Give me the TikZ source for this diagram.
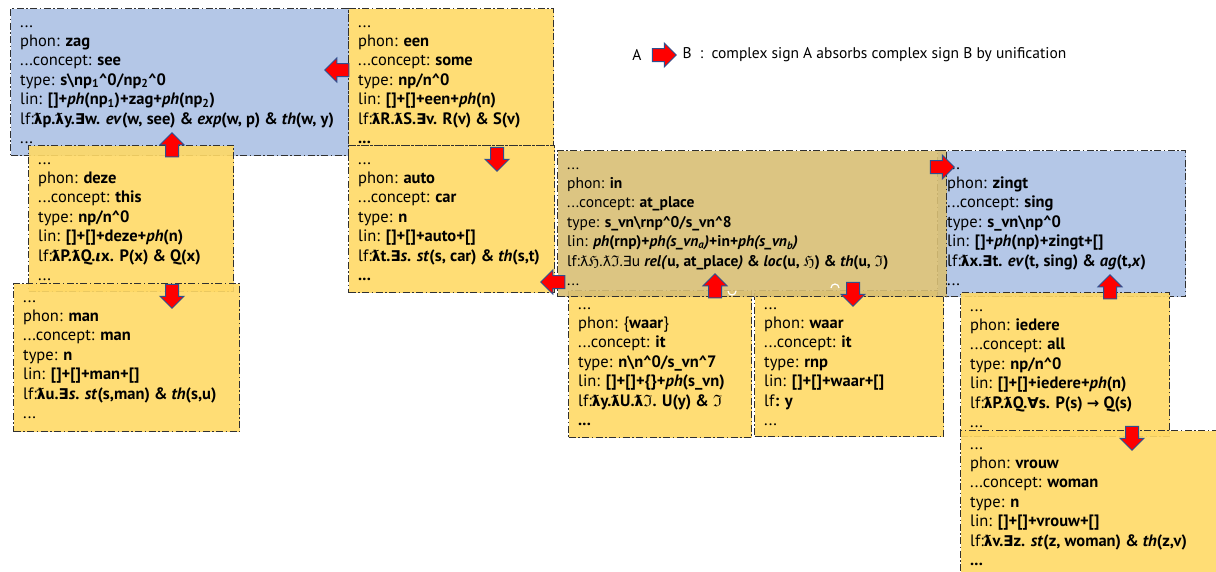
\documentclass[tikz,border=0pt]{standalone}
\usepackage{fontspec}
\usepackage{amssymb}
\setmainfont{PT Sans}
\newfontfamily\symf{DejaVu Sans}[Scale=0.9]
\usetikzlibrary{shapes.arrows}
\definecolor{sbBlue}{HTML}{B4C7E7}
\definecolor{sbYel}{HTML}{FFD966}
\definecolor{sbTan}{HTML}{D8BF74}
\definecolor{sbEdge}{HTML}{303030}
\definecolor{arrEdge}{HTML}{2F4F8F}
\newcommand\lam{{\symf ƛ}}
\newcommand\myex{{\symf ∃}}
\newcommand\myall{{\symf ∀}}
\newcommand\myto{{\symf →}}
\newcommand\myiota{{\symf\itshape ι}}
\newcommand\frH{$\mathfrak{H}$}
\newcommand\frI{$\mathfrak{I}$}
\newcommand\bs{\textbackslash}
\newcommand\crt{\textasciicircum}
\newcommand\boxfont{\fontsize{16.5}{19.4}\selectfont}
\newcommand\boxfontsm{\fontsize{15.5}{19.4}\selectfont}
\newcommand\legfont{\fontsize{15.5}{18}\selectfont}
\newcommand\lines[1]{\begin{tabular}{@{}l@{}}#1\end{tabular}}
\tikzset{
  box/.style={draw=sbEdge, line width=1pt, dash pattern=on 7pt off 2.5pt on 1.5pt off 2.5pt,
    inner sep=0pt, anchor=north west},
  yb/.style={box, fill=sbYel, fill opacity=0.9},
  bb/.style={box, fill=sbBlue},
  tb/.style={box, fill=sbTan, fill opacity=0.9},
  txt/.style={anchor=north west, inner sep=0pt},
  sarr/.style={single arrow, fill=red, draw=arrEdge, line width=1pt, minimum width=23pt,
    single arrow head extend=5.5pt, minimum height=24pt, inner sep=6pt, anchor=center},
  marc/.style={draw=white, line width=1.2pt}
}
\begin{document}
\begin{tikzpicture}[x=1pt,y=-1pt]
\useasboundingbox (0,0) rectangle (1216,571);
\begin{scope}
\clip (0,0) rectangle (1216,571);
% zag
\node[bb, minimum width=338pt, minimum height=147pt] (zag) at (10,8) {};
\node[txt] (zagT) at ([shift={(10,5.4)}]zag.north west) {\boxfont\lines{\strut...\\
phon: \textbf{zag}\\
...concept: \textbf{see}\\
type: \textbf{s\bs np\textsubscript{1}\crt0/np\textsubscript{2}\crt0}\\
lin: \textbf{[]+\textit{ph}(np\textsubscript{1})+zag+\textit{ph}(np\textsubscript{2})}\\
lf:\textbf{\lam p.\lam y.\myex w. \textit{ev}(w, see) \& \textit{exp}(w, p) \& \textit{th}(w, y)}\\
...}};
% een
\node[yb, minimum width=205pt, minimum height=137pt] (een) at (348,8) {};
\node[txt] (eenT) at ([shift={(10,5.4)}]een.north west) {\boxfont\lines{\strut...\\
phon: \textbf{een}\\
...concept: \textbf{some}\\
type: \textbf{np/n\crt0}\\
lin: \textbf{[]+[]+een+\textit{ph}(n)}\\
lf:\textbf{\lam R.\lam S.\myex v. R(v) \& S(v)}\\
\textbf{...}}};
% deze
\node[yb, minimum width=205pt, minimum height=146pt] (deze) at (28,145) {};
\node[txt] (dezeT) at ([shift={(10,5.4)}]deze.north west) {\boxfont\lines{\strut...\\
phon: \textbf{deze}\\
...concept: \textbf{this}\\
type: \textbf{np/n\crt0}\\
lin: \textbf{[]+[]+deze+\textit{ph}(n)}\\
lf:\textbf{\lam P.\lam Q.\myiota x. P(x) \& Q(x)}\\
...}};
% auto
\node[yb, minimum width=206pt, minimum height=147pt] (auto) at (348,145) {};
\node[txt] (autoT) at ([shift={(10,5.4)}]auto.north west) {\boxfont\lines{\strut...\\
phon: \textbf{auto}\\
...concept: \textbf{car}\\
type: \textbf{n}\\
lin: \textbf{[]+[]+auto+[]}\\
lf:\textbf{\lam t.\myex\textit{s}. \textit{st}(s, car) \& \textit{th}(s,t)}\\
\textbf{...}}};
% man
\node[yb, minimum width=226pt, minimum height=148pt] (man) at (13,283) {};
\node[txt] (manT) at ([shift={(10,5.4)}]man.north west) {\boxfont\lines{\strut...\\
phon: \textbf{man}\\
...concept: \textbf{man}\\
type: \textbf{n}\\
lin: \textbf{[]+[]+man+[]}\\
lf:\textbf{\lam u.\myex\textit{s}. \textit{st}(s,man) \& \textit{th}(s,u)}\\
...}};
% waar{}
\node[yb, minimum width=183pt, minimum height=147pt] (waarA) at (568,290) {};
\node[txt] (waarAT) at ([shift={(10,5.4)}]waarA.north west) {\boxfont\lines{\strut...\\
phon: \{\textbf{waar}\}\\
...concept: \textbf{it}\\
type: \textbf{n\bs n\crt0/s\_vn\crt7}\\
lin: \textbf{[]+[]+\{\}+\textit{ph}(s\_vn)}\\
lf:\textbf{\lam y.\lam U.\lam\frI. U(y) \& \frI}\\
\textbf{...}}};
% waar
\node[yb, minimum width=189pt, minimum height=146pt] (waarB) at (754,290) {};
\node[txt] (waarBT) at ([shift={(10,5.4)}]waarB.north west) {\boxfont\lines{\strut...\\
phon: \textbf{waar}\\
...concept: \textbf{it}\\
type: \textbf{rnp}\\
lin: \textbf{[]+[]+waar+[]}\\
lf\textbf{: y}\\
...}};
% zingt
\node[bb, minimum width=248pt, minimum height=146pt] (zingt) at (937,150) {};
\node[txt] (zingtT) at ([shift={(10,5.4)}]zingt.north west) {\boxfont\lines{\strut...\\
phon: \textbf{zingt}\\
...concept: \textbf{sing}\\
type: \textbf{s\_vn\bs np\crt0}\\
lin: \textbf{[]+\textit{ph}(np)+zingt+[]}\\
lf:\textbf{\lam x.\myex t. \textit{ev}(t, sing) \& \textit{ag}(t,\textit{x})}\\
...}};
% in
\node[tb, minimum width=389pt, minimum height=146pt] (in) at (557,150) {};
\node[txt] (inT) at ([shift={(10,5.4)}]in.north west) {\boxfontsm\lines{\strut...\\
phon: \textbf{in}\\
...concept: \textbf{at\_place}\\
type: \textbf{s\_vn\bs rnp\crt0/s\_vn\crt8}\\
lin: \textbf{\textit{ph}(rnp)+\textit{ph(s\_vn\textsubscript{a})}+in+\textit{ph(s\_vn\textsubscript{b})}}\\
lf:\lam\frH.\lam\frI.\myex u \textbf{\textit{rel(}u, at\_place\textit{)} \& \textit{loc}(u, \frH) \& \textit{th}(u, \frI)}\\
...}};
% iedere
\node[yb, minimum width=209pt, minimum height=144pt] (iedere) at (960,292) {};
\node[txt] (iedereT) at ([shift={(10,5.4)}]iedere.north west) {\boxfont\lines{\strut...\\
phon: \textbf{iedere}\\
...concept: \textbf{all}\\
type: \textbf{np/n\crt0}\\
lin: \textbf{[]+[]+iedere+\textit{ph}(n)}\\
lf:\textbf{\lam P.\lam Q.\myall s. P(s) \myto\ Q(s)}\\
...}};
% vrouw
\node[yb, minimum width=270pt, minimum height=150pt] (vrouw) at (960,430) {};
\node[txt] (vrouwT) at ([shift={(10,5.4)}]vrouw.north west) {\boxfont\lines{\strut...\\
phon: \textbf{vrouw}\\
...concept: \textbf{woman}\\
type: \textbf{n}\\
lin: \textbf{[]+[]+vrouw+[]}\\
lf:\textbf{\lam v.\myex z. \textit{st}(z, woman) \& \textit{th}(z,v)}\\
\textbf{...}}};
% small white marks
\draw[marc] (728,291) arc (180:0:4);
\draw[marc] (831,288) arc (180:360:4);
% arrows
\node[sarr, rotate=180] (arEenZag) at (340,70) {};
\node[sarr, rotate=90] (arDezeZag) at (172,148) {};
\node[sarr, rotate=-90] (arDezeMan) at (172,293) {};
\node[sarr, rotate=-90] (arEenAuto) at (497,156) {};
\node[sarr, rotate=180] (arInAuto) at (556,282) {};
\node[sarr] (arInZingt) at (939,167) {};
\node[sarr, rotate=90] (arWaarIn) at (715,289) {};
\node[sarr, rotate=-90] (arInWaar) at (853,291) {};
\node[sarr, rotate=90] (arIedZingt) at (1110,290) {};
\node[sarr, rotate=-90] (arIedVrouw) at (1132,435) {};
% legend
\node[anchor=center, font=\legfont] (legA) at (637,55) {A};
\node[sarr] (legArr) at (661,55) {};
\node[anchor=west, font=\legfont] (legB) at (679,55) {B\ \ :\ \ complex sign A absorbs complex sign B by unification};
\end{scope}
\end{tikzpicture}
\end{document}
